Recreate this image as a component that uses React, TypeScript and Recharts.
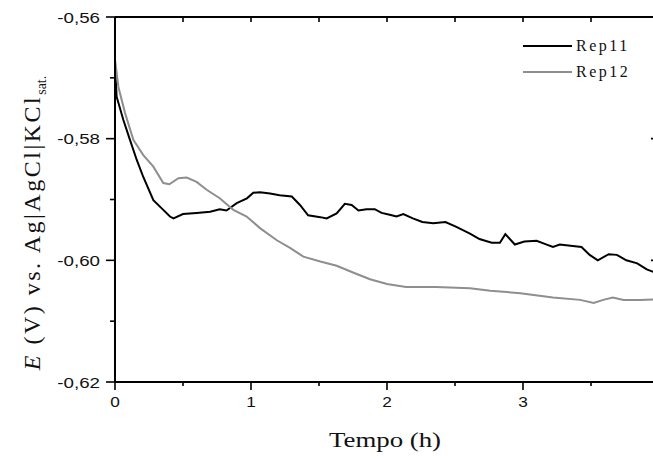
import { LineChart, Line, XAxis, YAxis, Legend, Label } from "recharts";

// Rep11 (black)
const TIME_REP11 = [
  0, 0.012, 0.061, 0.11, 0.16, 0.208, 0.282, 0.355, 0.404, 0.43, 0.5, 0.6, 0.7, 0.77, 0.82, 0.895, 0.97,
  1.017, 1.066, 1.14, 1.21, 1.3, 1.36, 1.42, 1.51, 1.556, 1.63, 1.69, 1.74, 1.79, 1.85, 1.91, 1.96,
  2.02, 2.07, 2.12, 2.19, 2.26, 2.34, 2.43, 2.51, 2.61, 2.68, 2.77, 2.83, 2.87, 2.94,
  3.01, 3.1, 3.16, 3.22, 3.27, 3.35, 3.43, 3.49, 3.55, 3.63, 3.69, 3.76, 3.84, 3.91, 3.96, 4.0,
];
const E_REP11 = [
  -0.568, -0.5731, -0.5769, -0.5802, -0.5835, -0.5863, -0.5901, -0.5917, -0.5928, -0.5931, -0.5924, -0.5922, -0.592, -0.5916, -0.5918, -0.5906, -0.5898,
  -0.5889, -0.5888, -0.589, -0.5893, -0.5895, -0.5909, -0.5926, -0.5929, -0.5931, -0.5923, -0.5907, -0.5909, -0.5918, -0.5916, -0.5916, -0.5922,
  -0.5925, -0.5928, -0.5924, -0.5931, -0.5937, -0.5939, -0.5937, -0.5945, -0.5956, -0.5965, -0.5971, -0.5971, -0.5957, -0.5974,
  -0.5969, -0.5968, -0.5973, -0.5978, -0.5974, -0.5976, -0.5978, -0.5991, -0.6, -0.599, -0.5991, -0.6, -0.6005, -0.6015, -0.6019, -0.602,
];

// Rep12 (gray)
const TIME_REP12 = [
  0, 0.025, 0.074, 0.135, 0.208, 0.282, 0.355, 0.4, 0.466, 0.527, 0.6, 0.674, 0.77, 0.87, 0.968,
  1.066, 1.19, 1.29, 1.385, 1.51, 1.63, 1.75, 1.875, 2.0, 2.14, 2.36, 2.61, 2.76, 2.98,
  3.22, 3.42, 3.52, 3.59, 3.66, 3.74, 3.86, 4.0,
];
const E_REP12 = [
  -0.567, -0.5715, -0.5758, -0.5802, -0.5827, -0.5846, -0.5873, -0.5875, -0.5865, -0.5864, -0.5871, -0.5884, -0.5898, -0.5917, -0.5928,
  -0.5947, -0.5967, -0.598, -0.5994, -0.6002, -0.6009, -0.602, -0.6031, -0.6039, -0.6044, -0.6044, -0.6046, -0.605, -0.6054,
  -0.6061, -0.6065, -0.607, -0.6065, -0.6061, -0.6065, -0.6065, -0.6064,
];

const X_TICKS = [0, 0.5, 1, 1.5, 2, 2.5, 3, 3.5, 4];
const Y_TICKS = [-0.62, -0.61, -0.6, -0.59, -0.58, -0.57, -0.56];
const SERIES = ["Rep11", "Rep12"];
const COLORS = ["#000000", "#8e8e8e"];

const rep11 = TIME_REP11.map((t, i) => ({ t, e: E_REP11[i] }));
const rep12 = TIME_REP12.map((t, i) => ({ t, e: E_REP12[i] }));

const SANS = "'Liberation Sans', Arial, sans-serif";
const SERIF = "'Liberation Serif', 'Times New Roman', serif";

// major y ticks every 0.02
const isMajor = (v: number) => Math.round(v * 100) % 2 === 0;

function BottomTick({ x, y, payload }: any) {
  const v = payload.value;
  const major = Number.isInteger(v);
  return (
    <g>
      <line x1={x} x2={x} y1={y} y2={y + (major ? 8 : 4)} stroke="#000" strokeWidth={1.6} />
      {major && (
        <text transform={`translate(${x},${y + 25}) scale(1.15,1)`} textAnchor="middle" fontSize={15} fontFamily={SANS} fill="#111">
          {v}
        </text>
      )}
    </g>
  );
}

function TopTick({ x, y }: any) {
  return <line x1={x} x2={x} y1={y} y2={y + 5} stroke="#000" strokeWidth={1.6} />;
}

function LeftTick({ x, y, payload }: any) {
  const v = payload.value;
  const major = isMajor(v);
  return (
    <g>
      <line x1={x} x2={x - (major ? 9 : 5)} y1={y} y2={y} stroke="#000" strokeWidth={1.6} />
      {major && (
        <text transform={`translate(${x - 15},${y + 5.5}) scale(1.25,1)`} textAnchor="end" fontSize={15} fontFamily={SANS} fill="#111">
          {v.toFixed(2).replace(".", ",")}
        </text>
      )}
    </g>
  );
}

// right axis sits just past the window edge; its ticks point inward
function RightTick({ x, y, payload }: any) {
  const major = isMajor(payload.value);
  return <line x1={x} x2={x - (major ? 8 : 4)} y1={y} y2={y} stroke="#000" strokeWidth={1.6} />;
}

function XTitle({ viewBox }: any) {
  const cx = viewBox.x + viewBox.width / 2 - 2;
  return (
    <text transform={`translate(${cx},447) scale(1.22,1)`} textAnchor="middle" fontSize={22} fontFamily={SERIF} fill="#111">
      Tempo (h)
    </text>
  );
}

function YTitle() {
  return (
    <text transform="translate(40,223) rotate(-90)" textAnchor="middle" fontSize={24} fontFamily={SERIF} fill="#111" letterSpacing={2.5}>
      <tspan fontStyle="italic">E</tspan>
      <tspan> (V) vs. Ag|AgCl|KCl</tspan>
      <tspan dy={6} fontSize={14} letterSpacing={0}>sat.</tspan>
    </text>
  );
}

function LegendBox() {
  return (
    <svg width={130} height={50} style={{ display: "block" }}>
      {SERIES.map((name, i) => (
        <g key={name}>
          <line x1={0} x2={49} y1={10 + i * 26} y2={10 + i * 26} stroke={COLORS[i]} strokeWidth={2} />
          <text x={53} y={15 + i * 26} fontSize={16} fontFamily={SERIF} fill="#111" letterSpacing={2.5}>
            {name}
          </text>
        </g>
      ))}
    </svg>
  );
}

export default function App() {
  return (
    <div style={{ position: "absolute", left: 0, top: 0, width: 653, height: 459, overflow: "hidden", background: "#fff" }}>
      <LineChart width={680} height={459} margin={{ top: 0, right: 0, bottom: 0, left: 0 }}>
        <XAxis
          xAxisId="bottom"
          type="number"
          dataKey="t"
          domain={[0, 4]}
          ticks={X_TICKS}
          interval={0}
          height={77}
          tickSize={0}
          tickMargin={0}
          tickLine={false}
          axisLine={{ stroke: "#000", strokeWidth: 2 }}
          tick={<BottomTick />}
          allowDataOverflow
        >
          <Label content={<XTitle />} />
        </XAxis>
        <XAxis
          xAxisId="top"
          orientation="top"
          type="number"
          dataKey="t"
          domain={[0, 4]}
          ticks={X_TICKS}
          interval={0}
          height={17}
          tickSize={0}
          tickMargin={0}
          tickLine={false}
          axisLine={{ stroke: "#000", strokeWidth: 2 }}
          tick={<TopTick />}
          allowDataOverflow
        />
        <YAxis
          yAxisId="left"
          type="number"
          domain={[-0.62, -0.56]}
          ticks={Y_TICKS}
          interval={0}
          width={115}
          tickSize={0}
          tickMargin={0}
          tickLine={false}
          axisLine={{ stroke: "#000", strokeWidth: 2 }}
          tick={<LeftTick />}
          allowDataOverflow
        >
          <Label content={<YTitle />} />
        </YAxis>
        <YAxis
          yAxisId="right"
          orientation="right"
          type="number"
          domain={[-0.62, -0.56]}
          ticks={Y_TICKS}
          interval={0}
          width={21}
          tickSize={0}
          tickMargin={0}
          tickLine={false}
          axisLine={{ stroke: "#000", strokeWidth: 2 }}
          tick={<RightTick />}
          allowDataOverflow
        />
        <Legend
          layout="vertical"
          align="center"
          verticalAlign="middle"
          content={<LegendBox />}
          wrapperStyle={{ position: "absolute", left: 523, top: 36, width: 130 }}
        />
        <Line
          xAxisId="bottom"
          yAxisId="left"
          data={rep11}
          dataKey="e"
          name={SERIES[0]}
          stroke={COLORS[0]}
          strokeWidth={2}
          dot={false}
          type="linear"
          isAnimationActive={false}
        />
        <Line
          xAxisId="top"
          yAxisId="right"
          data={rep12}
          dataKey="e"
          name={SERIES[1]}
          stroke={COLORS[1]}
          strokeWidth={2}
          dot={false}
          type="linear"
          isAnimationActive={false}
        />
      </LineChart>
    </div>
  );
}
